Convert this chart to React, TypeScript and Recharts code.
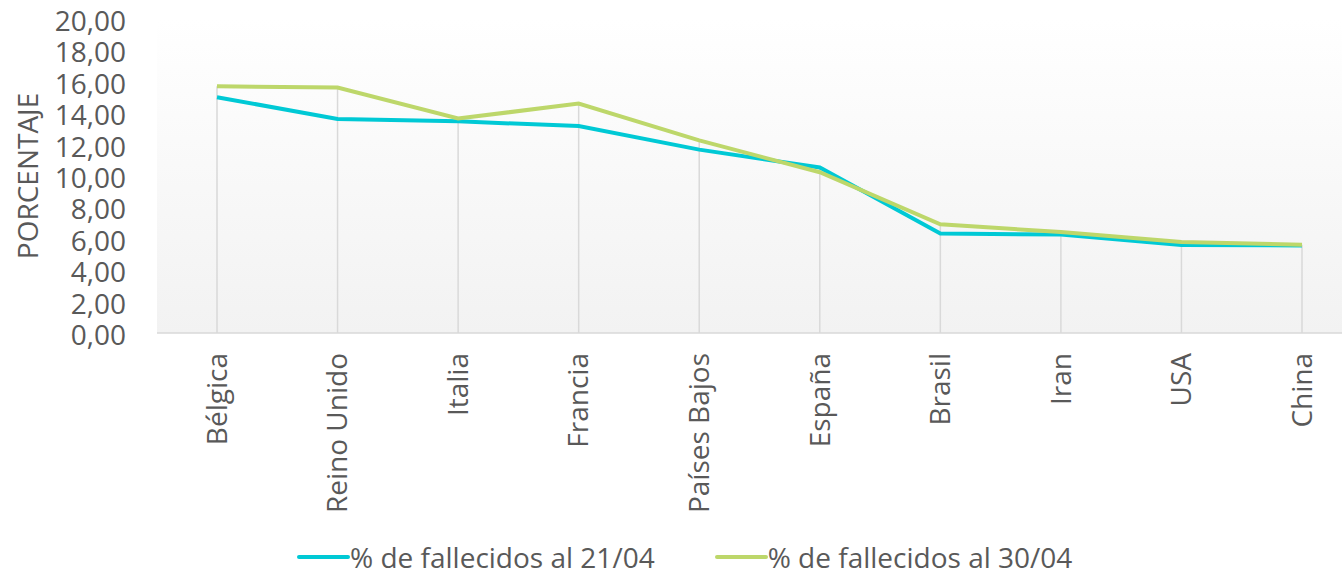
import React from "react"
import {
  LineChart,
  Line,
  XAxis,
  YAxis,
  CartesianGrid,
  Legend,
  ReferenceLine,
} from "recharts"

const COUNTRIES = ["Bélgica", "Reino Unido", "Italia", "Francia", "Países Bajos", "España", "Brasil", "Iran", "USA", "China"]
const DEATHS_2104 = [15.02, 13.63, 13.48, 13.18, 11.68, 10.54, 6.33, 6.27, 5.6, 5.58]
const DEATHS_3004 = [15.71, 15.63, 13.66, 14.61, 12.27, 10.24, 6.92, 6.43, 5.8, 5.62]
const Y_TICKS = [0, 2, 4, 6, 8, 10, 12, 14, 16, 18, 20]

const SERIES = [
  { key: "d2104", name: "% de fallecidos al 21/04", color: "#00C9D5" },
  { key: "d3004", name: "% de fallecidos al 30/04", color: "#BDD76A" },
]

const data = COUNTRIES.map((country, i) => ({
  country,
  d2104: DEATHS_2104[i],
  d3004: DEATHS_3004[i],
}))

const FONT = "'Open Sans', sans-serif"
const TEXT = "#595959"
const GRID = "#d9d9d9"

const fmt = (v: number) => v.toFixed(2).replace(".", ",")

function YTick({ x, y, payload }: any) {
  return (
    <text x={x} y={y} dy={12} textAnchor="end" fill={TEXT} fontSize={28} fontFamily={FONT}>
      {fmt(payload.value)}
    </text>
  )
}

function XTick({ x, y, payload }: any) {
  return (
    <text
      x={x}
      y={y}
      dy="0.35em"
      textAnchor="end"
      transform={`rotate(-90, ${x}, ${y})`}
      fill={TEXT}
      fontSize={28}
      fontFamily={FONT}
    >
      {payload.value}
    </text>
  )
}

function YLabel({ viewBox }: any) {
  const cx = 28
  const cy = viewBox.y + viewBox.height / 2
  return (
    <text
      x={cx}
      y={cy}
      dy="0.35em"
      textAnchor="middle"
      transform={`rotate(-90, ${cx}, ${cy})`}
      fill={TEXT}
      fontSize={28}
      fontFamily={FONT}
    >
      PORCENTAJE
    </text>
  )
}

function LegendContent() {
  return (
    <div style={{ display: "flex", alignItems: "center", height: 40, fontFamily: FONT, fontSize: 28, color: TEXT }}>
      {SERIES.map((s, i) => (
        <div key={s.key} style={{ display: "flex", alignItems: "center", marginLeft: i ? 60 : 0, whiteSpace: "nowrap" }}>
          <span style={{ display: "inline-block", width: 53, height: 4, background: s.color, borderRadius: 2 }} />
          <span>{s.name}</span>
        </div>
      ))}
    </div>
  )
}

export default function App() {
  return (
    <div style={{ position: "absolute", left: 0, top: 0, width: 1342, height: 579, overflow: "hidden", background: "#fff" }}>
      <LineChart width={1380} height={579} data={data} margin={{ top: 19, right: 18, left: 0, bottom: 2 }}>
        <defs>
          <linearGradient id="plotBg" x1="0" y1="0" x2="0" y2="1">
            <stop offset="0%" stopColor="#ffffff" />
            <stop offset="100%" stopColor="#f2f2f2" />
          </linearGradient>
        </defs>
        <CartesianGrid horizontal={false} vertical={false} fill="url(#plotBg)" />
        <XAxis
          dataKey="country"
          interval={0}
          height={204}
          padding={{ left: 60, right: 60 }}
          tickLine={false}
          tickSize={0}
          tickMargin={20}
          axisLine={{ stroke: GRID, strokeWidth: 1.5 }}
          tick={<XTick />}
        />
        <YAxis
          width={157}
          domain={[0, 20]}
          ticks={Y_TICKS}
          interval={0}
          axisLine={false}
          tickLine={false}
          tickSize={0}
          tickMargin={31}
          tick={<YTick />}
          label={<YLabel />}
        />
        {COUNTRIES.map((c, i) => (
          <ReferenceLine
            key={c}
            segment={[
              { x: c, y: 0 },
              { x: c, y: Math.max(DEATHS_2104[i], DEATHS_3004[i]) },
            ]}
            stroke={GRID}
            strokeWidth={1.5}
          />
        ))}
        {SERIES.map((s) => (
          <Line
            key={s.key}
            type="linear"
            dataKey={s.key}
            name={s.name}
            stroke={s.color}
            strokeWidth={4}
            dot={false}
            activeDot={false}
            isAnimationActive={false}
          />
        ))}
        <Legend verticalAlign="bottom" content={<LegendContent />} wrapperStyle={{ left: 297, width: "auto" }} />
      </LineChart>
    </div>
  )
}
